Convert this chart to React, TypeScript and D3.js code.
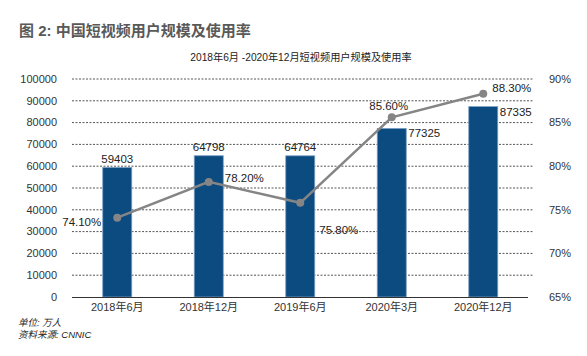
import React from "react";
import * as d3 from "d3";

const categories = ["2018年6月", "2018年12月", "2019年6月", "2020年3月", "2020年12月"];
const users = [59403, 64798, 64764, 77325, 87335];
const rates = [74.1, 78.2, 75.8, 85.6, 88.3];
const leftTicks = [0, 10000, 20000, 30000, 40000, 50000, 60000, 70000, 80000, 90000, 100000];
const rightTicks = [65, 70, 75, 80, 85, 90];

const W = 587, H = 356;
const FONT = "'Liberation Sans', Arial, 'Noto Sans CJK SC', sans-serif";

export default function App() {
  const band = d3.scaleBand<string>().domain(categories).range([71.5, 529]);
  const cx = (c: string) => (band(c) as number) + band.bandwidth() / 2;
  const yL = d3.scaleLinear().domain([0, 100000]).range([297, 79]);
  const yR = d3.scaleLinear().domain([65, 90]).range([297, 79]);
  const bw = 29;

  const line = d3.line<number>().x((_, i) => cx(categories[i])).y((d) => yR(d));

  const barLabelPos: Array<[number, number, string]> = [
    [0, -5, "middle"], [0, -5, "middle"], [0, -5, "middle"], [bw / 2 + 2, 9, "start"], [bw / 2 + 2, 9, "start"],
  ];
  const rateLabelPos: Array<[number, number, string]> = [
    [-16, 4, "end"], [16, -4, "start"], [19, 27, "start"], [-3, -11, "middle"], [9, -5.5, "start"],
  ];

  return (
    <svg width={W} height={H} style={{ position: "absolute", left: 0, top: 0, background: "#fff" }} fontFamily={FONT}>
      <text x={19} y={36} fontSize={15} fontWeight="bold" fill="#595959">图 2: 中国短视频用户规模及使用率</text>
      <text x={301} y={61} fontSize={10.2} fill="#222" textAnchor="middle">2018年6月 -2020年12月短视频用户规模及使用率</text>

      {leftTicks.filter((t) => t > 0).map((t) => (
        <line key={t} x1={72} x2={533} y1={yL(t)} y2={yL(t)} stroke="#555" strokeWidth={1} strokeDasharray="2 1.5" />
      ))}
      {leftTicks.map((t) => (
        <text key={t} x={57} y={yL(t)} dy="0.35em" fontSize={11} fill="#333" textAnchor="end">{t}</text>
      ))}
      {rightTicks.map((t) => (
        <text key={t} x={549} y={yR(t)} dy="0.35em" fontSize={11} fill="#333">{t}%</text>
      ))}

      {categories.map((c, i) => (
        <rect key={c} x={cx(c) - bw / 2} y={yL(users[i])} width={bw} height={297 - yL(users[i])}
          fill="#0b4b80" stroke="#7b9fc4" strokeWidth={0.8} />
      ))}
      <line x1={72} x2={528} y1={297.5} y2={297.5} stroke="#333" strokeWidth={1.2} />

      {categories.map((c) => (
        <text key={c} x={cx(c)} y={311} fontSize={11} fill="#333" textAnchor="middle">{c}</text>
      ))}

      {categories.map((c, i) => (
        <text key={c} x={cx(c) + barLabelPos[i][0]} y={yL(users[i]) + barLabelPos[i][1]} fontSize={11.5} fill="#222"
          textAnchor={barLabelPos[i][2] as any}>{users[i]}</text>
      ))}

      <path d={line(rates) || ""} fill="none" stroke="#858585" strokeWidth={2.5} />
      {categories.map((c, i) => (
        <circle key={c} cx={cx(c)} cy={yR(rates[i])} r={4} fill="#858585" />
      ))}
      {categories.map((c, i) => (
        <text key={c} x={cx(c) + rateLabelPos[i][0]} y={yR(rates[i]) + rateLabelPos[i][1]} fontSize={11.5} fill="#222"
          dy="0.35em" textAnchor={rateLabelPos[i][2] as any}>{rates[i].toFixed(2)}%</text>
      ))}

      <text x={18} y={326} fontSize={9.5} fill="#222" fontStyle="italic">单位: 万人</text>
      <text x={18} y={338} fontSize={9.5} fill="#222" fontStyle="italic">资料来源: CNNIC</text>
    </svg>
  );
}
